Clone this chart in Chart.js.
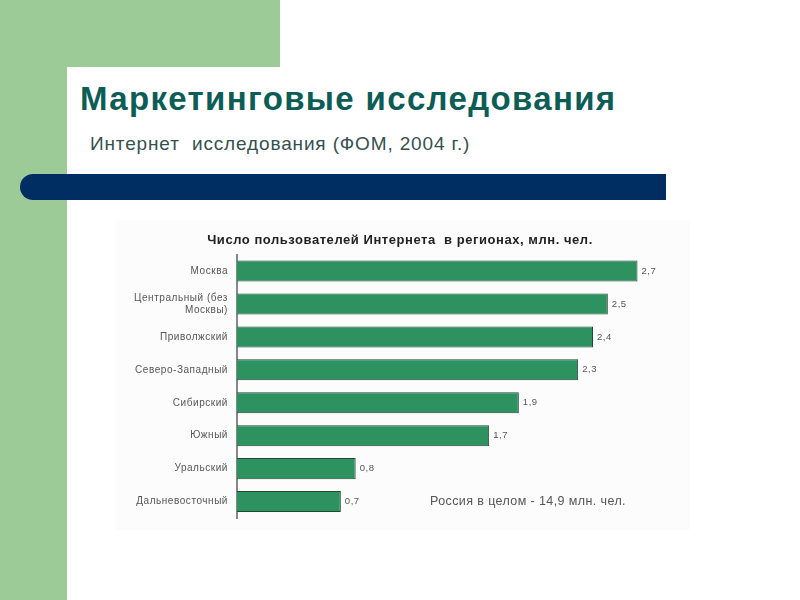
<!DOCTYPE html>
<html>
<head>
<meta charset="utf-8">
<script src="https://cdn.jsdelivr.net/npm/chart.js@4/dist/chart.umd.min.js"></script>
<style>
  html, body { margin: 0; padding: 0; }
  body { width: 800px; height: 600px; position: relative; overflow: hidden; background: #fff; font-family: "Liberation Sans", Arial, sans-serif; }
  .green { position: absolute; background: #9ccb98; }
  #sheet { position: absolute; left: 67px; top: 67px; width: 733px; height: 533px; background: #fff; border-top-left-radius: 24px; }
  #navy { position: absolute; left: 20px; top: 174px; width: 646px; height: 26px; background: #002d62; border-radius: 13px 0 0 13px; }
  #title { position: absolute; left: 80px; top: 80px; font-size: 33px; font-weight: bold; color: #0d5d57; white-space: nowrap; letter-spacing: 1.35px; }
  #subtitle { position: absolute; left: 90px; top: 133px; font-size: 19px; color: #35514f; white-space: pre; letter-spacing: 0.85px; }
  #panel { position: absolute; left: 115px; top: 220px; width: 575px; height: 310px; background: #fcfcfc; }
  #wrap { position: absolute; left: 118px; top: 222px; width: 572px; height: 311px; }
  #wrap canvas { display: block; }
  #note { position: absolute; left: 430px; top: 494px; font-size: 12.5px; color: #555; white-space: nowrap; letter-spacing: 0.4px; }
</style>
</head>
<body>
<div class="green" style="left:0;top:0;width:280px;height:67px"></div>
<div class="green" style="left:0;top:0;width:67px;height:600px"></div>
<div id="sheet"></div>
<div id="title">Маркетинговые исследования</div>
<div id="subtitle">Интернет  исследования (ФОМ, 2004 г.)</div>
<div id="navy"></div>
<div id="panel"></div>
<div id="wrap"><canvas id="chart" width="572" height="311"></canvas></div>
<div id="note">Россия в целом - 14,9 млн. чел.</div>
<script>
var regions = ["Москва", ["Центральный (без", "Москвы)"], "Приволжский", "Северо-Западный",
               "Сибирский", "Южный", "Уральский", "Дальневосточный"];
var users = [2.7, 2.5, 2.4, 2.3, 1.9, 1.7, 0.8, 0.7];
var chartTitle = "Число пользователей Интернета  в регионах, млн. чел.";

// the original text is drawn a bit wide, so space the letters out
var wideText = {
    id: "wideText",
    beforeDraw: function (chart) { chart.ctx.letterSpacing = "0.55px"; }
};

// value labels at bar ends, decimal comma
var barLabels = {
    id: "barLabels",
    afterDatasetsDraw: function (chart) {
        var ctx = chart.ctx;
        var meta = chart.getDatasetMeta(0);
        ctx.save();
        ctx.font = "9.5px 'Liberation Sans', Arial, sans-serif";
        ctx.fillStyle = "#555";
        ctx.textBaseline = "middle";
        meta.data.forEach(function (bar, i) {
            ctx.fillText(String(users[i]).replace(".", ","), bar.x + 4, bar.y);
        });
        ctx.restore();
    }
};

new Chart(document.getElementById("chart").getContext("2d"), {
    type: "bar",
    data: {
        labels: regions,
        datasets: [{
            data: users,
            backgroundColor: "rgb(46, 145, 96)",
            borderColor: "rgb(34, 72, 52)",
            borderWidth: 1,
            categoryPercentage: 1,
            barPercentage: 0.64
        }]
    },
    options: {
        indexAxis: "y",
        responsive: false,
        animation: false,
        layout: { padding: { right: 8, bottom: 0 } },
        plugins: {
            legend: { display: false },
            tooltip: { enabled: false },
            title: {
                display: true,
                text: chartTitle,
                color: "#222",
                font: { size: 13, weight: "bold", family: "'Liberation Sans', Arial, sans-serif" },
                padding: { top: 11, bottom: 6 }
            }
        },
        scales: {
            x: { display: false, min: 0, max: 3 },
            y: {
                grid: { display: false, tickLength: 0 },
                border: { display: true, color: "#888", width: 2 },
                ticks: {
                    color: "#555",
                    padding: 9,
                    font: { size: 10, family: "'Liberation Sans', Arial, sans-serif" }
                },
                afterFit: function (scale) { scale.width = 119; }
            }
        }
    },
    plugins: [wideText, barLabels]
});
</script>
</body>
</html>
